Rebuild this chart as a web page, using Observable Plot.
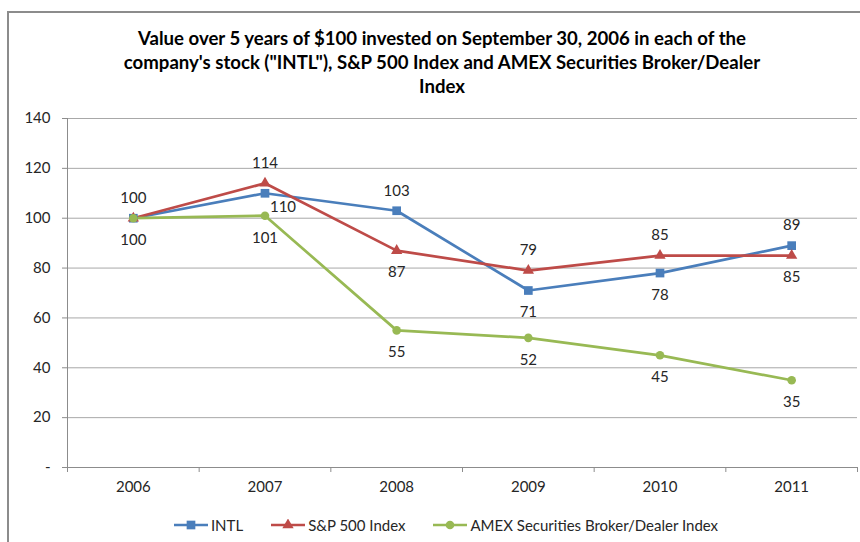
<!DOCTYPE html>
<html>
<head>
<meta charset="utf-8">
<script src="https://cdn.jsdelivr.net/npm/d3@7"></script>
<script src="https://cdn.jsdelivr.net/npm/@observablehq/plot@0.6"></script>
<style>
  html, body { margin: 0; padding: 0; background: #fff; width: 860px; height: 542px; overflow: hidden; }
  #frame { position: absolute; left: 7px; top: 11px; width: 900px; height: 600px; border-left: 2px solid #8c8c8c; border-top: 2px solid #8c8c8c; box-sizing: border-box; }
  #chart { position: absolute; left: 0; top: 0; }
  #title { position: absolute; left: 0; top: 26px; width: 884px; text-align: center; font: bold 18.6px Lato, sans-serif; line-height: 24px; color: #000; }
  #legend { position: absolute; left: 0; top: 516px; width: 892px; display: flex; justify-content: center; align-items: center; font: 15px Lato, sans-serif; color: #262626; }
  .item { display: flex; align-items: center; margin: 0 14px; }
  .item svg { margin-right: 3px; }
</style>
</head>
<body>
<div id="frame"></div>
<div id="chart"></div>
<div id="title">Value over 5 years of $100 invested on September 30, 2006 in each of the<br>company's stock ("INTL"), S&amp;P 500 Index and AMEX Securities Broker/Dealer<br>Index</div>
<div id="legend"></div>
<script>
const years = [2006, 2007, 2008, 2009, 2010, 2011];
const seriesNames = ["INTL", "S&P 500 Index", "AMEX Securities Broker/Dealer Index"];
const intl = [100, 110, 103, 71, 78, 89];
const sp500 = [100, 114, 87, 79, 85, 85];
const amex = [100, 101, 55, 52, 45, 35];
// where each data label sits relative to its point ("none": hidden behind a coinciding label)
const intlLabelSide = ["top", "right", "top", "bottom", "bottom", "top"];
const sp500LabelSide = ["none", "top", "bottom", "top", "top", "bottom"];
const amexLabelSide = ["bottom", "bottom", "bottom", "bottom", "bottom", "bottom"];
const yTicks = [0, 20, 40, 60, 80, 100, 120, 140];

const colors = ["#4a7ebb", "#be4b48", "#98b954"];
const symbols = ["square", "triangle", "circle"];
const radii = [4.9, 4.2, 4.3];

const seriesValues = [intl, sp500, amex];
const seriesSides = [intlLabelSide, sp500LabelSide, amexLabelSide];
const rows = [];
seriesNames.forEach((name, si) => {
  seriesValues[si].forEach((v, i) => {
    rows.push({series: name, si, year: years[i], value: v, side: seriesSides[si][i]});
  });
});

const bounds = years.map(y => y - 0.5).concat([years[years.length - 1] + 0.5]);
const labelFill = "#262626";
const axisStroke = "#8c8c8c";
const fs = 15;

const marks = [
  Plot.ruleY(yTicks.filter(d => d > 0), {stroke: "#a8a8a8", strokeWidth: 1}),
  Plot.ruleY([0], {stroke: axisStroke, strokeWidth: 1}),
  Plot.ruleX([bounds[0]], {stroke: axisStroke, strokeWidth: 1}),
  Plot.axisY({ticks: yTicks, tickFormat: d => d === 0 ? "-" : String(d), tickSize: 5, tickPadding: 12, fontSize: fs, stroke: axisStroke, fill: labelFill, label: null}),
  Plot.axisX({ticks: bounds, tickFormat: () => "", tickSize: 5, stroke: axisStroke, label: null}),
  Plot.axisX({ticks: years, tickFormat: d => String(d), tickSize: 0, tickPadding: 14, fontSize: fs, fill: labelFill, label: null}),
  Plot.lineY(rows, {x: "year", y: "value", z: "series", stroke: "series", strokeWidth: 2.7})
];
seriesNames.forEach((name, si) => {
  marks.push(Plot.dot(rows.filter(d => d.si === si), {x: "year", y: "value", symbol: "series", fill: "series", r: radii[si]}));
});
marks.push(
  Plot.text(rows.filter(d => d.side === "top"), {x: "year", y: "value", text: d => String(d.value), dy: -20, fontSize: fs, fill: labelFill}),
  Plot.text(rows.filter(d => d.side === "bottom"), {x: "year", y: "value", text: d => String(d.value), dy: 22, fontSize: fs, fill: labelFill}),
  Plot.text(rows.filter(d => d.side === "right"), {x: "year", y: "value", text: d => String(d.value), dx: 18, dy: 14, fontSize: fs, fill: labelFill})
);

const chart = Plot.plot({
  width: 860,
  height: 542,
  marginLeft: 67,
  marginRight: 3,
  marginTop: 118,
  marginBottom: 75,
  style: {fontFamily: "Lato, sans-serif", background: "transparent"},
  x: {type: "linear", domain: [bounds[0], bounds[bounds.length - 1]], label: null},
  y: {domain: [0, 140], label: null},
  color: {domain: seriesNames, range: colors},
  symbol: {domain: seriesNames, range: symbols},
  marks
});
document.getElementById("chart").appendChild(chart);

// legend
const legend = d3.select("#legend");
seriesNames.forEach((name, si) => {
  const item = legend.append("div").attr("class", "item");
  const svg = item.append("svg").attr("width", 34).attr("height", 12);
  svg.append("line").attr("x1", 0).attr("x2", 34).attr("y1", 6).attr("y2", 6)
    .attr("stroke", colors[si]).attr("stroke-width", 2.7);
  const sym = [d3.symbolSquare, d3.symbolTriangle, d3.symbolCircle][si];
  svg.append("path").attr("transform", "translate(17,6)")
    .attr("d", d3.symbol(sym, Math.PI * radii[si] * radii[si])())
    .attr("fill", colors[si]);
  item.append("span").text(name);
});
</script>
</body>
</html>
